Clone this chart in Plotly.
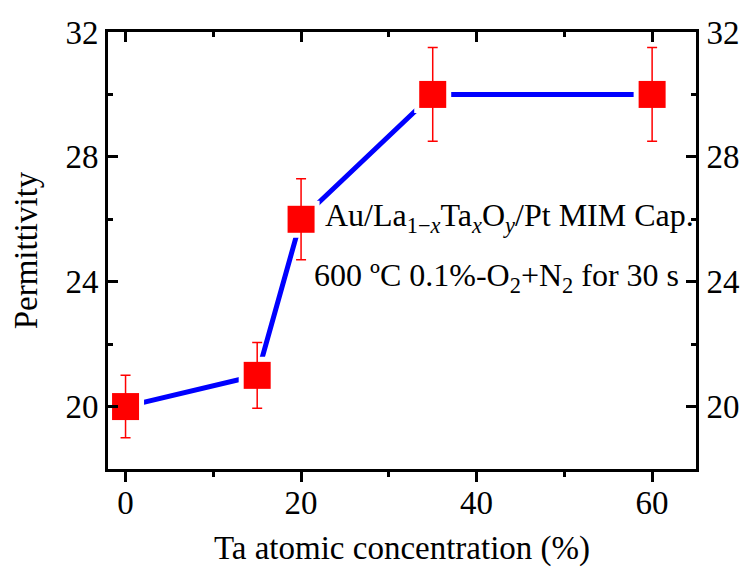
import plotly.graph_objects as go

ta_conc = [0, 15, 20, 35, 60]
permittivity = [20, 21, 26, 30, 30]
perm_err = [1.0, 1.05, 1.3, 1.5, 1.5]

FONT = "Liberation Serif"

fig = go.Figure()
# blue connecting line
fig.add_trace(go.Scatter(x=ta_conc, y=permittivity, mode="lines",
                         line=dict(color="#0000FF", width=5), hoverinfo="skip"))
# white halo to create gap between line and symbols
fig.add_trace(go.Scatter(x=ta_conc, y=permittivity, mode="markers",
                         marker=dict(symbol="square", size=37, color="white",
                                     line=dict(width=0)), hoverinfo="skip"))
# red symbols with error bars
fig.add_trace(go.Scatter(x=ta_conc, y=permittivity, mode="markers",
                         marker=dict(symbol="square", size=27, color="#FF0000",
                                     line=dict(width=0)),
                         error_y=dict(type="data", array=perm_err, visible=True,
                                      color="#FF0000", thickness=1.5, width=5)))
# invisible trace for secondary axes
fig.add_trace(go.Scatter(x=[ta_conc[0]], y=[permittivity[0]], xaxis="x2", yaxis="y2",
                         mode="markers", marker=dict(opacity=0), hoverinfo="skip"))

axis_common = dict(showgrid=False, zeroline=False, showline=True, linecolor="black",
                   linewidth=3, tickcolor="black", tickwidth=3, layer="above traces",
                   automargin=False,
                   tickfont=dict(family=FONT, size=33, color="black"))

fig.update_layout(
    width=744, height=567,
    margin=dict(l=108, r=48, t=32, b=98),
    paper_bgcolor="white", plot_bgcolor="white",
    showlegend=False,
    font=dict(family=FONT, size=33, color="black"),
    xaxis=dict(range=[-2, 65], tickmode="linear", tick0=0, dtick=20,
               ticks="outside", ticklen=10, ticklabelstandoff=-8,
               minor=dict(dtick=10, ticks="outside", ticklen=5, tickwidth=3, tickcolor="black"),
               title=dict(text="Ta atomic concentration (%)", standoff=25,
                          font=dict(family=FONT, size=33)),
               **axis_common),
    xaxis2=dict(range=[-2, 65], overlaying="x", side="top", matches="x",
                tickmode="linear", tick0=0, dtick=20, ticks="inside", ticklen=10,
                showticklabels=False,
                minor=dict(dtick=10, ticks="inside", ticklen=5, tickwidth=3, tickcolor="black"),
                **axis_common),
    yaxis=dict(range=[18, 32], tickmode="linear", tick0=0, dtick=4,
               ticks="inside", ticklen=10, ticklabelstandoff=0,
               minor=dict(dtick=2, ticks="inside", ticklen=5, tickwidth=3, tickcolor="black"),
               title=dict(text="Permittivity", standoff=18, font=dict(family=FONT, size=33)),
               **axis_common),
    yaxis2=dict(range=[18, 32], overlaying="y", side="right", matches="y",
                tickmode="linear", tick0=0, dtick=4, ticks="inside", ticklen=10,
                ticklabelstandoff=1,
                minor=dict(dtick=2, ticks="inside", ticklen=5, tickwidth=3, tickcolor="black"),
                **axis_common),
)

fig.add_annotation(x=22.5, y=26.07, xref="x", yref="y", xanchor="left", yanchor="middle",
                   text="Au/La<sub>1\u2212<i>x</i></sub>Ta<sub><i>x</i></sub>O<sub><i>y</i></sub>/Pt MIM Cap.",
                   showarrow=False, font=dict(family=FONT, size=32, color="black"))
fig.add_annotation(x=21.2, y=24.12, xref="x", yref="y", xanchor="left", yanchor="middle",
                   text="600 \u00baC 0.1%-O<sub>2</sub>+N<sub>2</sub> for 30 s",
                   showarrow=False, font=dict(family=FONT, size=32, color="black"))

fig.write_html("out.html")
